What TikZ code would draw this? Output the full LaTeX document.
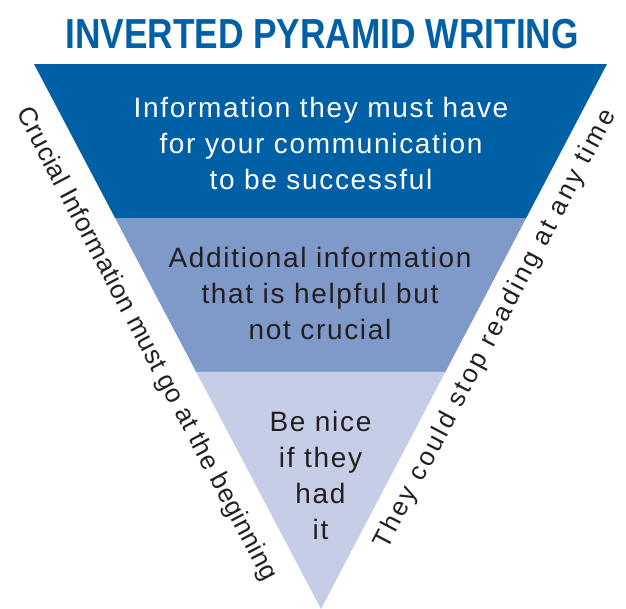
\documentclass[tikz,border=0pt]{standalone}
\usepackage{fontspec}
\setmainfont{Liberation Sans}
\newfontfamily\bodyfont[LetterSpace=6]{Liberation Sans}
\newfontfamily\sidefontA[LetterSpace=2.2]{Liberation Sans}
\newfontfamily\sidefontB[LetterSpace=11]{Liberation Sans}
\usetikzlibrary{calc}
\definecolor{pyrdark}{RGB}{0,96,166}
\definecolor{pyrmid}{RGB}{127,153,201}
\definecolor{pyrlight}{RGB}{197,206,230}
\definecolor{pyrtext}{RGB}{35,31,32}
\tikzset{
  bandtext/.style={align=center, inner sep=0pt, anchor=base,
    font=\bodyfont\fontsize{28}{36}\selectfont},
  sidetext/.style={inner sep=0pt, text=pyrtext},
}
\begin{document}
\begin{tikzpicture}[x=1pt,y=-1pt]
\useasboundingbox (0,0) rectangle (626,608);
\coordinate (TL) at (34,64);
\coordinate (TR) at (607,64);
\coordinate (A) at (321,609);
\coordinate (L1) at ($(TL)!0.2826!(A)$);
\coordinate (R1) at ($(TR)!0.2826!(A)$);
\coordinate (L2) at ($(TL)!0.5651!(A)$);
\coordinate (R2) at ($(TR)!0.5651!(A)$);
\fill[pyrdark] (TL) -- (TR) -- (R1) -- (L1) -- cycle;
\fill[pyrmid] (L1) -- (R1) -- (R2) -- (L2) -- cycle;
\fill[pyrlight] (L2) -- (R2) -- (A) -- cycle;
\node[anchor=base, inner sep=0pt, text=pyrdark, font=\bfseries\fontsize{42}{42}\selectfont] (title) at (322,48.3) {\scalebox{0.84}[1]{INVERTED PYRAMID WRITING}};
\node[bandtext, text=white] (t1) at (321,189) {Information they must have\\for your communication\\to be successful};
\node[bandtext, text=pyrtext] (t2) at (320,339) {Additional information\\that is helpful but\\not crucial};
\node[bandtext, text=pyrtext] (t3) at (320.5,539) {Be nice\\if they\\had\\it};
\node[sidetext, rotate=-62.18, font=\sidefontA\fontsize{26}{26}\selectfont] (left) at (146,344.5) {Crucial Information must go at the beginning};
\node[sidetext, rotate=62.3, font=\sidefontB\fontsize{26}{26}\selectfont] (right) at (495.5,329.5) {They could stop reading at any time};
\end{tikzpicture}
\end{document}
